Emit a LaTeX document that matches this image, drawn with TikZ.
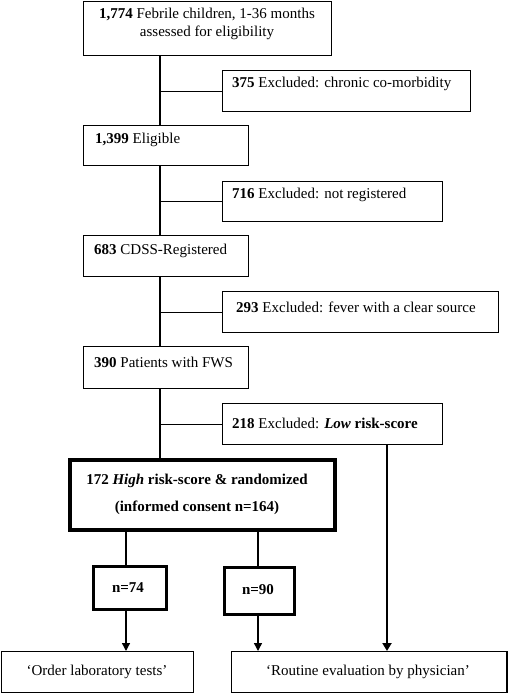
\documentclass[tikz,border=0pt]{standalone}
\usepackage{fontspec}
\setmainfont{Liberation Serif}
\usetikzlibrary{arrows.meta}
\begin{document}
\begin{tikzpicture}[x=1pt,y=-1pt,
  box/.style={draw, line width=1.2pt, inner sep=0pt, anchor=north west},
  bigbox/.style={box, line width=4pt},
  nbox/.style={box, line width=3pt},
  txt/.style={font=\fontsize{15}{18}\selectfont, inner sep=0pt, anchor=west},
  ctxt/.style={font=\fontsize{15}{18}\selectfont, inner sep=0pt, align=center},
  conn/.style={line width=1.2pt},
  arr/.style={line width=1.4pt, -{Triangle[length=8pt,width=8pt]}},
  thickarr/.style={line width=2.4pt, -{Triangle[length=8pt,width=9pt]}}]
\useasboundingbox (0,0) rectangle (507,693);
\coordinate (sp) at (160,0);
\coordinate (c1) at (126,0);
\coordinate (c2) at (258,0);
\coordinate (c3) at (387,0);
% boxes
\node[box, minimum width=248pt, minimum height=54pt] (b1) at (83,1) {};
\node[box, minimum width=248pt, minimum height=41pt] (e1) at (222,70) {};
\node[box, minimum width=165pt, minimum height=40pt] (b2) at (83,125) {};
\node[box, minimum width=220pt, minimum height=40pt] (e2) at (222,181) {};
\node[box, minimum width=165pt, minimum height=41pt] (b3) at (83,235) {};
\node[box, minimum width=276pt, minimum height=41pt] (e3) at (222,291) {};
\node[box, minimum width=165pt, minimum height=42pt] (b4) at (83,346) {};
\node[box, minimum width=220pt, minimum height=41pt] (e4) at (222,403) {};
\node[bigbox, minimum width=265pt, minimum height=70pt] (r) at (68,458) {};
\node[nbox, minimum width=73pt, minimum height=43pt] (n74) at (92,565) {};
\node[nbox, minimum width=70pt, minimum height=47pt] (n90) at (223,566) {};
\node[box, minimum width=192pt, minimum height=41pt] (o) at (0.6,651) {};
\node[box, minimum width=275.4pt, minimum height=41pt] (rt) at (231,651) {};
% texts
\node[ctxt] (t1) at (207,24) {\textbf{1,774} Febrile children, 1-36 months\\assessed for eligibility};
\node[txt] (te1) at (232,84) {\textbf{375} Excluded: chronic co-morbidity};
\node[txt] (t2) at (95,140) {\textbf{1,399} Eligible};
\node[txt] (te2) at (232,195) {\textbf{716} Excluded: not registered};
\node[txt] (t3) at (94,251) {\textbf{683} CDSS-Registered};
\node[txt] (te3) at (236,307) {\textbf{293} Excluded: fever with a clear source};
\node[txt] (t4) at (94,362) {\textbf{390} Patients with FWS};
\node[txt] (te4) at (232,423) {\textbf{218} Excluded: \textbf{\textit{Low} risk-score}};
\node[ctxt, font=\fontsize{15}{27}\selectfont\bfseries] (tr) at (197,494) {172 \textit{High} risk-score \& randomized\\(informed consent n=164)};
\node[ctxt, font=\fontsize{15}{18}\selectfont\bfseries] (tn74) at (128,588) {n=74};
\node[ctxt, font=\fontsize{15}{18}\selectfont\bfseries] (tn90) at (258,590) {n=90};
\node[ctxt] (to) at (97,672) {‘Order laboratory tests’};
\node[ctxt] (trt) at (368,672) {‘Routine evaluation by physician’};
% connectors
\draw[conn] (b1.south -| sp) -- (b2.north -| sp);
\draw[conn] (b2.south -| sp) -- (b3.north -| sp);
\draw[conn] (b3.south -| sp) -- (b4.north -| sp);
\draw[conn] (b4.south -| sp) -- (r.north -| sp);
\draw[conn] (e1.west) -- (e1.west -| sp);
\draw[conn] (e2.west) -- (e2.west -| sp);
\draw[conn] (e3.west) -- (e3.west -| sp);
\draw[conn] (e4.west) -- (e4.west -| sp);
\draw[conn] (r.south -| c1) -- (n74.north -| c1);
\draw[conn] (r.south -| c2) -- (n90.north -| c2);
\draw[arr] (n74.south -| c1) -- (o.north -| c1);
\draw[arr] (n90.south -| c2) -- (rt.north -| c2);
\draw[thickarr] (e4.south -| c3) -- (rt.north -| c3);
\end{tikzpicture}
\end{document}
